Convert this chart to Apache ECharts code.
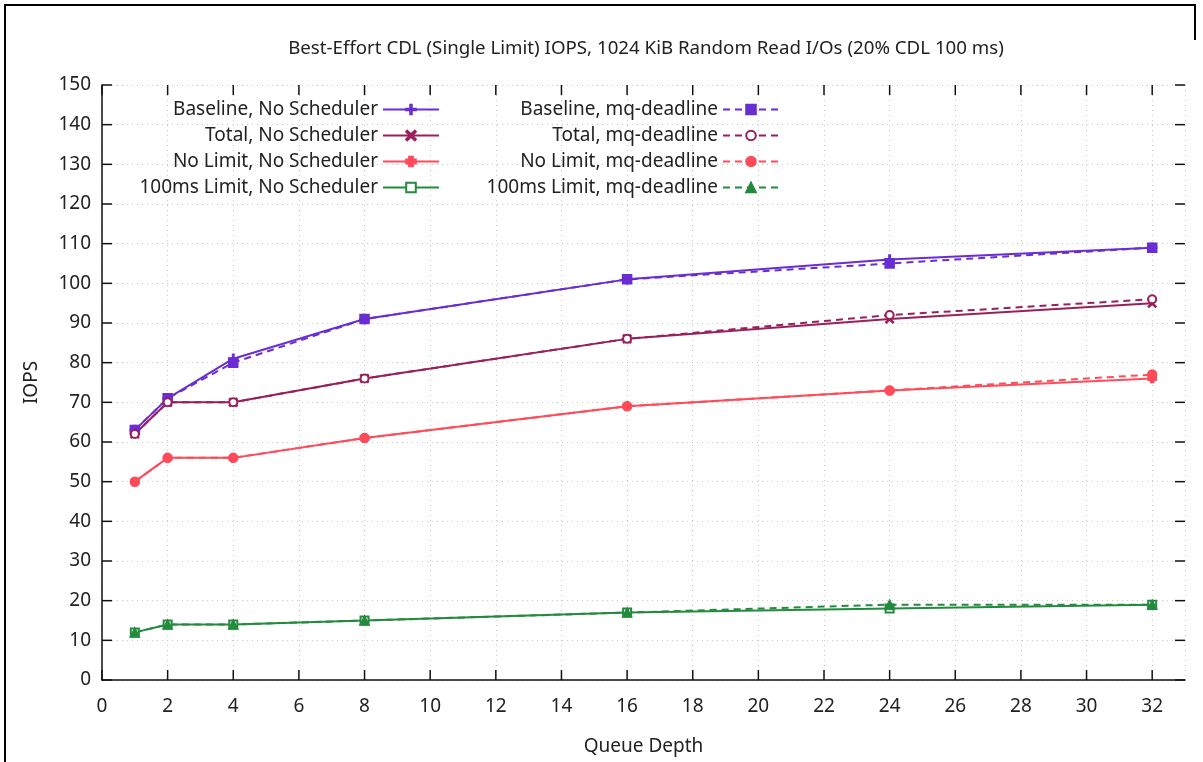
<!DOCTYPE html>
<html>
<head>
<meta charset="utf-8">
<script src="https://cdn.jsdelivr.net/npm/echarts@6/dist/echarts.min.js"></script>
<style>
  html, body { margin: 0; padding: 0; background: #fff; }
  #chart { width: 1203px; height: 762px; }
</style>
</head>
<body>
<div id="chart"></div>
<script>
// queue depths
const queueDepth = [1, 2, 4, 8, 16, 24, 32];
const xTicks = [0, 2, 4, 6, 8, 10, 12, 14, 16, 18, 20, 22, 24, 26, 28, 30, 32];
const yTicks = [0, 10, 20, 30, 40, 50, 60, 70, 80, 90, 100, 110, 120, 130, 140, 150];

// IOPS, no scheduler
const baselineNone = [63, 71, 81, 91, 101, 106, 109];
const totalNone = [62, 70, 70, 76, 86, 91, 95];
const noLimitNone = [50, 56, 56, 61, 69, 73, 76];
const limit100None = [12, 14, 14, 15, 17, 18, 19];

// IOPS, mq-deadline
const baselineMq = [63, 71, 80, 91, 101, 105, 109];
const totalMq = [62, 70, 70, 76, 86, 92, 96];
const noLimitMq = [50, 56, 56, 61, 69, 73, 77];
const limit100Mq = [12, 14, 14, 15, 17, 19, 19];

const X_MAX = 33, Y_MAX = 150;
const FONT = 'Noto Sans';
const FS = 19;
const PURPLE = '#6a2dd2', MAROON = '#98215c', RED = '#ff4b5a', GREEN = '#238b3d';

// marker shapes
const PLUS = 'path://M4.2,0H5.8V4.2H10V5.8H5.8V10H4.2V5.8H0V4.2H4.2Z';
const CROSS = 'path://M1,0L5,3.8L9,0L10,1L6.2,5L10,9L9,10L5,6.2L1,10L0,9L3.8,5L0,1Z';
const STAR = 'path://M3,0H7V3H10V7H7V10H3V7H0V3H3Z';

function pts(vals) {
    return queueDepth.map((q, i) => [q, vals[i]]);
}

function line(name, vals, color, dashed, symbol, size) {
    return {
        name: name,
        type: 'line',
        data: pts(vals),
        symbol: symbol,
        symbolSize: size,
        showAllSymbol: true,
        animation: false,
        lineStyle: { color: color, width: 2, type: dashed ? [7, 5] : 'solid' },
        itemStyle: { color: color, borderColor: color, borderWidth: 1.5 },
        z: 3
    };
}

const series = [
    line('Baseline, No Scheduler', baselineNone, PURPLE, false, PLUS, 9),
    line('Total, No Scheduler', totalNone, MAROON, false, CROSS, 8),
    line('No Limit, No Scheduler', noLimitNone, RED, false, STAR, 8),
    line('100ms Limit, No Scheduler', limit100None, GREEN, false, 'emptyRect', 8),
    line('Baseline, mq-deadline', baselineMq, PURPLE, true, 'rect', 9),
    line('Total, mq-deadline', totalMq, MAROON, true, 'emptyCircle', 8),
    line('No Limit, mq-deadline', noLimitMq, RED, true, 'circle', 9),
    line('100ms Limit, mq-deadline', limit100Mq, GREEN, true, 'triangle', 9)
];

// one legend per entry so the texts line up on the right
const legends = series.map((s, i) => ({
    data: [s.name],
    right: i < 4 ? 758 : 418,
    top: 95 + (i % 4) * 26,
    align: 'right',
    itemWidth: 56,
    itemHeight: 12,
    itemGap: 0,
    textStyle: { fontFamily: FONT, fontSize: FS, color: '#222' },
    selectedMode: false
}));

const gridLine = { show: true, lineStyle: { color: '#c8c8c8', type: [1, 4], width: 1 } };

let myChart = echarts.init(document.getElementById('chart'));
myChart.setOption({
    backgroundColor: '#fff',
    animation: false,
    title: {
        text: 'Best-Effort CDL (Single Limit) IOPS, 1024 KiB Random Read I/Os (20% CDL 100 ms)',
        left: 641,
        textAlign: 'center',
        top: 34,
        textStyle: { fontFamily: FONT, fontSize: 18.7, fontWeight: 'normal', color: '#222' }
    },
    legend: legends,
    grid: { left: 102, right: 18, top: 85, bottom: 82 },
    xAxis: {
        type: 'value',
        min: 0,
        max: X_MAX,
        interval: 2,
        name: 'Queue Depth',
        nameLocation: 'middle',
        nameGap: 57,
        nameTextStyle: { fontFamily: FONT, fontSize: FS, color: '#222' },
        axisLine: { show: true, onZero: false, lineStyle: { color: '#111', width: 1.5 } },
        axisTick: { show: false },
        axisLabel: { customValues: xTicks, margin: 17, fontFamily: FONT, fontSize: FS, color: '#222' },
        splitLine: gridLine
    },
    yAxis: {
        type: 'value',
        min: 0,
        max: Y_MAX,
        interval: 10,
        name: 'IOPS',
        nameLocation: 'middle',
        nameRotate: 90,
        nameGap: 61,
        nameTextStyle: { fontFamily: FONT, fontSize: FS, color: '#222' },
        axisLine: { show: true, onZero: false, lineStyle: { color: '#111', width: 1.5 } },
        axisTick: { show: false },
        axisLabel: { margin: 11, fontFamily: FONT, fontSize: FS, color: '#222' },
        splitLine: gridLine
    },
    series: series
});

// gnuplot-style inward ticks on all four sides, placed through the chart's own scales
const tickStyle = { stroke: '#111', lineWidth: 1.5 };
const marks = [];
function tick(p, dx, dy) {
    marks.push({ type: 'line', silent: true, z: 10, shape: { x1: p[0], y1: p[1], x2: p[0] + dx, y2: p[1] + dy }, style: tickStyle });
}
xTicks.forEach(v => {
    tick(myChart.convertToPixel({ gridIndex: 0 }, [v, 0]), 0, -10);
    tick(myChart.convertToPixel({ gridIndex: 0 }, [v, Y_MAX]), 0, 10);
});
yTicks.forEach(v => {
    tick(myChart.convertToPixel({ gridIndex: 0 }, [0, v]), 10, 0);
    tick(myChart.convertToPixel({ gridIndex: 0 }, [X_MAX, v]), -10, 0);
});
// outer picture frame
marks.push({
    type: 'polyline',
    silent: true,
    shape: { points: [[5, 762], [5, 5], [1195, 5], [1195, 40]] },
    style: { stroke: '#000', lineWidth: 2, fill: null }
});
myChart.setOption({ graphic: marks });
</script>
</body>
</html>
